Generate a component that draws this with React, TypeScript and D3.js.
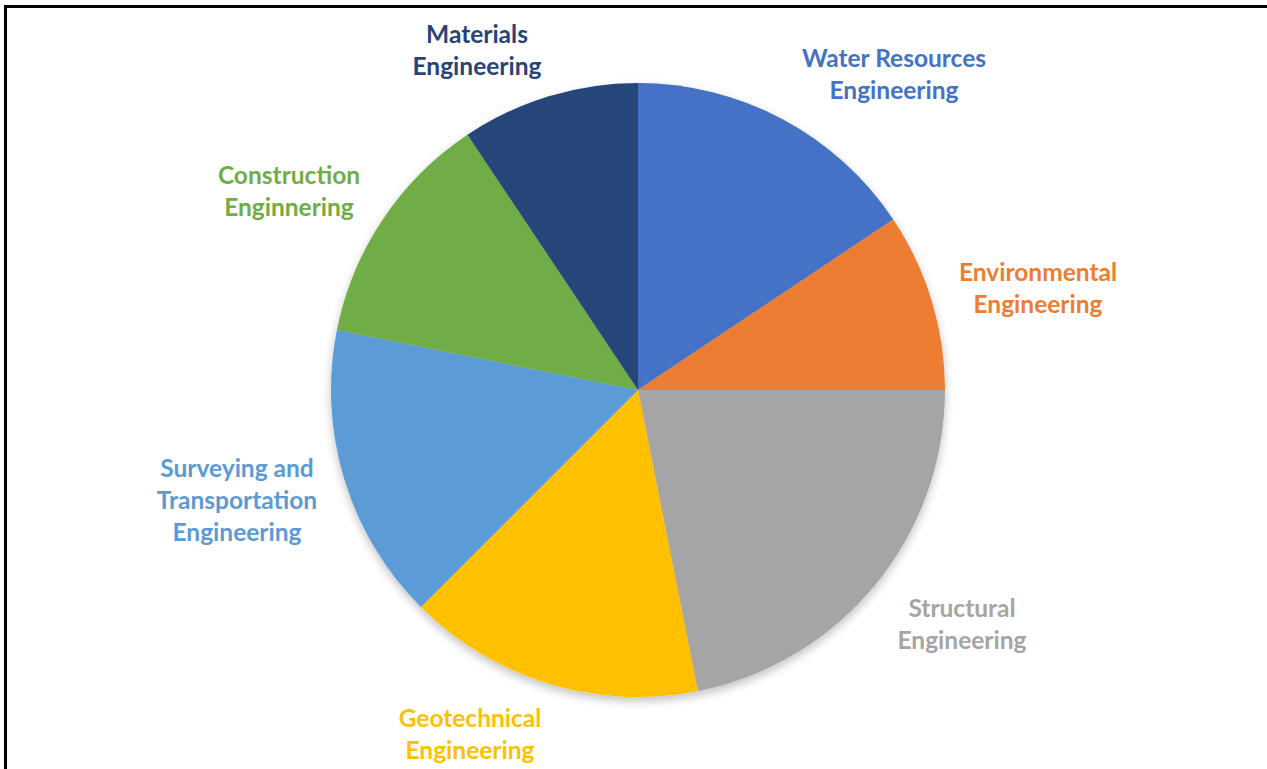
import React from "react";
import * as d3 from "d3";

const categories = [
  "Water Resources Engineering",
  "Environmental Engineering",
  "Structural Engineering",
  "Geotechnical Engineering",
  "Surveying and Transportation Engineering",
  "Construction Enginnering",
  "Materials Engineering",
];
const values = [5, 3, 7, 5, 5, 4, 3];
const colors = ["#4472C4", "#ED7D31", "#A5A5A5", "#FFC000", "#5B9BD5", "#70AD47", "#264478"];
const labelLines = [
  ["Water Resources", "Engineering"],
  ["Environmental", "Engineering"],
  ["Structural", "Engineering"],
  ["Geotechnical", "Engineering"],
  ["Surveying and", "Transportation", "Engineering"],
  ["Construction", "Enginnering"],
  ["Materials", "Engineering"],
];
const labelPos: [number, number][] = [
  [894, 57],
  [1038, 271],
  [962, 607],
  [470, 717],
  [237, 467],
  [289, 174],
  [477, 33],
];

export default function App() {
  const W = 1267, H = 769;
  const cx = 638, cy = 390, r = 307;
  const pie = d3.pie<number>().sort(null).value((d) => d)(values);
  const arc = d3.arc<d3.PieArcDatum<number>>().innerRadius(0).outerRadius(r);
  return (
    <svg width={W} height={H} style={{ position: "absolute", left: 0, top: 0 }}>
      <defs>
        <filter id="sh" x="-20%" y="-20%" width="140%" height="140%">
          <feGaussianBlur in="SourceAlpha" stdDeviation="5" />
          <feOffset dx="0" dy="4" result="b" />
          <feComponentTransfer>
            <feFuncA type="linear" slope="0.25" />
          </feComponentTransfer>
          <feMerge>
            <feMergeNode />
            <feMergeNode in="SourceGraphic" />
          </feMerge>
        </filter>
      </defs>
      <rect x={0} y={0} width={W} height={H} fill="#fff" />
      <path d={`M5.5,${H + 5} L5.5,6.5 L${W + 5},6.5`} fill="none" stroke="#000" strokeWidth={3} />
      <g transform={`translate(${cx},${cy})`} filter="url(#sh)">
        {pie.map((p, i) => (
          <path key={categories[i]} d={arc(p) || ""} fill={colors[i]} />
        ))}
      </g>
      {labelLines.map((lines, i) => (
        <text
          key={i}
          x={labelPos[i][0]}
          y={labelPos[i][1]}
          fill={colors[i]}
          textAnchor="middle"
          fontFamily="Lato, 'Open Sans', sans-serif"
          fontWeight="bold"
          fontSize={24.5}
          dominantBaseline="central"
        >
          {lines.map((l, j) => (
            <tspan key={j} x={labelPos[i][0]} dy={j === 0 ? 0 : 32}>
              {l}
            </tspan>
          ))}
        </text>
      ))}
    </svg>
  );
}
